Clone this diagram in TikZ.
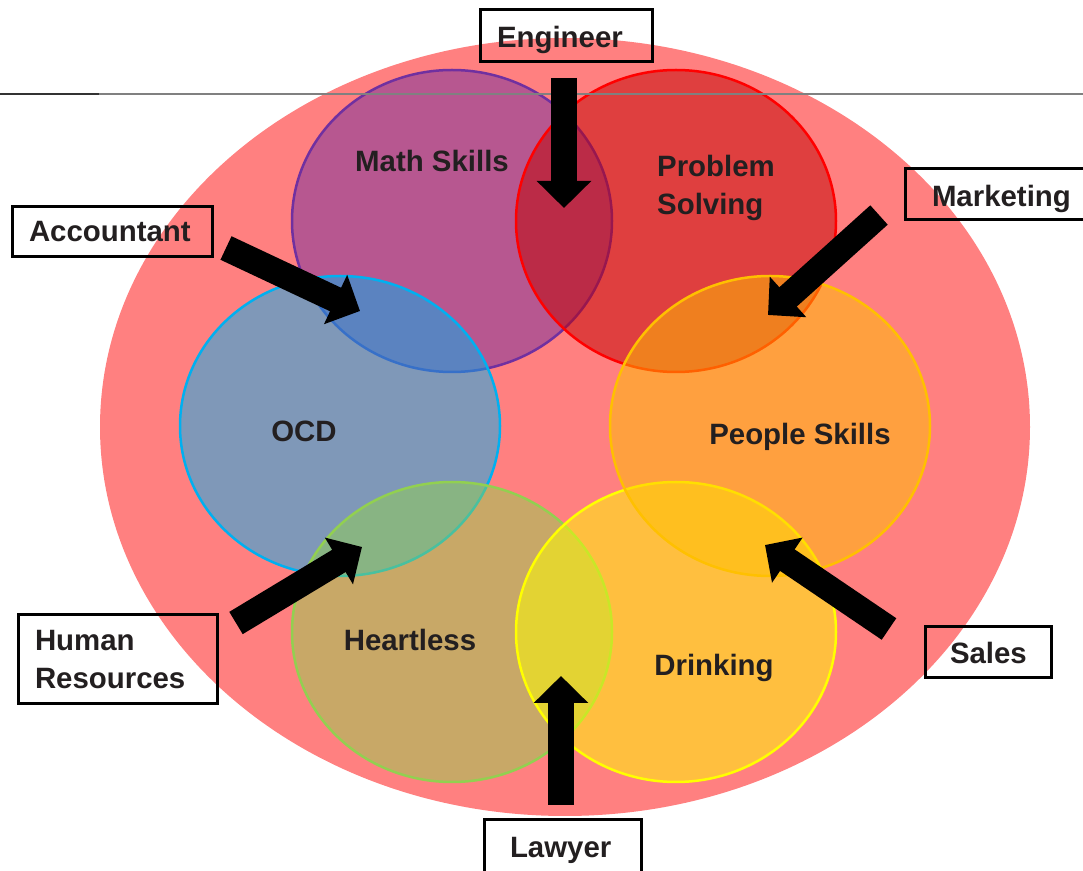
\documentclass[tikz,border=0pt]{standalone}
\usepackage{fontspec}
\setmainfont{Liberation Sans}
\usetikzlibrary{arrows.meta}

% fills are drawn at half opacity over the pink ring
\definecolor{ringpink}{HTML}{FF8080}
\definecolor{mathfill}{HTML}{7030A0}
\definecolor{probfill}{HTML}{C00000}
\definecolor{ocdfill}{HTML}{00B0F0}
\definecolor{peoplefill}{HTML}{FFC000}
\definecolor{heartfill}{HTML}{92D050}
\definecolor{drinkfill}{HTML}{FFFF00}
\definecolor{labeltext}{HTML}{231F20}

\tikzset{
  skill/.style={fill opacity=0.5},
  rim/.style={line width=1.25pt},
  skilltext/.style={text=labeltext, anchor=base},
  jobbox/.style={draw=black, line width=1.5pt, text=labeltext, align=left,
    inner ysep=0pt},
  pointer/.style={black, line width=13pt, -{Triangle[width=26.5pt,length=13.5pt]}}
}

\begin{document}
\begin{tikzpicture}[x=0.5pt,y=-0.5pt,
    font=\fontsize{14.7pt}{19pt}\selectfont\bfseries]
  \useasboundingbox (0,0) rectangle (1083,871);

  % Outer ring
  \fill[ringpink] (565,427) ellipse [x radius=232.5pt, y radius=194.5pt];

  % Skill circles
  \fill[mathfill,skill] (452,221) ellipse [x radius=80pt, y radius=75.5pt];
  \draw[mathfill,rim] (452,221) ellipse [x radius=80pt, y radius=75.5pt];
  \fill[probfill,skill] (676,221) ellipse [x radius=80pt, y radius=75.5pt];
  \draw[red,rim] (676,221) ellipse [x radius=80pt, y radius=75.5pt];
  \fill[ocdfill,skill] (340,426) ellipse [x radius=80pt, y radius=75pt];
  \draw[ocdfill,rim] (340,426) ellipse [x radius=80pt, y radius=75pt];
  \fill[heartfill,skill] (452,632) ellipse [x radius=80pt, y radius=75pt];
  \draw[heartfill,rim] (452,632) ellipse [x radius=80pt, y radius=75pt];
  \fill[drinkfill,skill] (676,632) ellipse [x radius=80pt, y radius=75pt];
  \draw[drinkfill,rim] (676,632) ellipse [x radius=80pt, y radius=75pt];
  \fill[peoplefill,skill] (770,426) ellipse [x radius=80pt, y radius=75pt];
  \draw[peoplefill,rim] (770,426) ellipse [x radius=80pt, y radius=75pt];

  % Rule across the top
  \draw[black!80,line width=0.7pt] (0,94) -- (99,94);
  \draw[gray,line width=0.7pt] (99,94) -- (1083,94);

  % Skill labels
  \node[skilltext] (math) at (432,172) {Math Skills};
  \node[text=labeltext, align=left] (problem) at (716,188) {Problem\\Solving};
  \node[skilltext] (ocd) at (304,442) {OCD};
  \node[skilltext] (people) at (800,445) {People Skills};
  \node[skilltext] (heartless) at (410,651) {Heartless};
  \node[skilltext] (drinking) at (714,676) {Drinking};

  % Job boxes
  \node[jobbox, inner xsep=8.5pt, text width=69pt, minimum height=26pt] (engineer) at (566,36) {\raisebox{-2pt}[8pt][0pt]{Engineer}};
  \node[jobbox, inner xsep=8.5pt, text width=83pt, minimum height=25pt] (accountant) at (112,232) {Accountant};
  \node[jobbox, inner xsep=13.5pt, text width=70pt, minimum height=25.5pt] (marketing) at (1002,194.5) {\raisebox{-2pt}[8pt][0pt]{Marketing}};
  \node[jobbox, inner xsep=8.5pt, text width=82.5pt, minimum height=44.5pt] (hr) at (117.5,659.5) {Human\\Resources};
  \node[jobbox, inner xsep=12.5pt, text width=38pt, minimum height=25.5pt] (sales) at (988,652.5) {Sales};
  \node[jobbox, inner xsep=13pt, text width=52.5pt, minimum height=28pt] (lawyer) at (562.5,848) {\raisebox{-0.75pt}[8pt][0pt]{Lawyer}};

  % Arrow ends
  \coordinate (engTail) at (564,78);   \coordinate (engTip) at (564,208);
  \coordinate (accTail) at (226,248);  \coordinate (accTip) at (360,311);
  \coordinate (mktTail) at (879,215);  \coordinate (mktTip) at (768,315);
  \coordinate (hrTail) at (236,623);   \coordinate (hrTip) at (362,547);
  \coordinate (salesTail) at (889,629); \coordinate (salesTip) at (765,545);
  \coordinate (lawTail) at (561,805);  \coordinate (lawTip) at (561,676);

  % Arrows
  \draw[pointer] (engTail) -- (engTip);
  \draw[pointer] (accTail) -- (accTip);
  \draw[pointer] (mktTail) -- (mktTip);
  \draw[pointer] (hrTail) -- (hrTip);
  \draw[pointer] (salesTail) -- (salesTip);
  \draw[pointer] (lawTail) -- (lawTip);

\end{tikzpicture}
\end{document}
